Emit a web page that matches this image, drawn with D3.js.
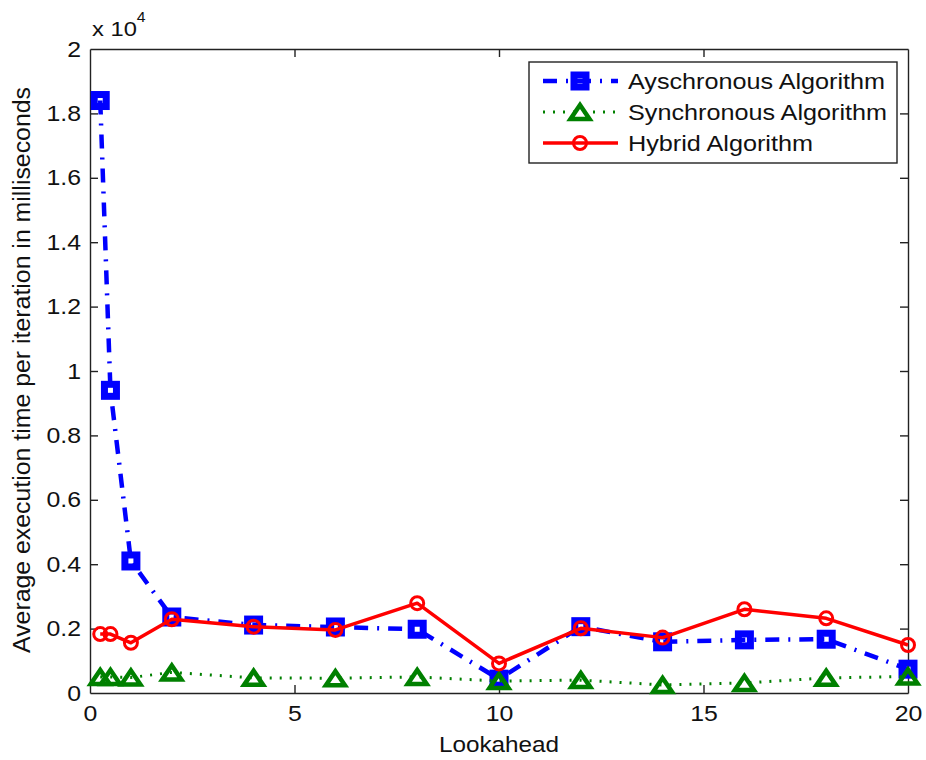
<!DOCTYPE html>
<html>
<head>
<meta charset="utf-8">
<script src="https://cdn.jsdelivr.net/npm/d3@7"></script>
<style>
  html, body { margin: 0; padding: 0; background: #fff; }
  svg { display: block; font-family: "Liberation Sans", Arial, Helvetica, sans-serif; }
</style>
</head>
<body>
<svg id="chart" width="926" height="760"></svg>
<script>
// Lookahead values (x) and average execution time per iteration (ms)
const lookahead = [0.25, 0.5, 1, 2, 4, 6, 8, 10, 12, 14, 16, 18, 20];
const asyncTimes  = [18400, 9400, 4100, 2360, 2110, 2050, 1980, 430, 2060, 1590, 1650, 1670, 740];
const syncTimes   = [500, 500, 480, 640, 470, 460, 500, 370, 400, 250, 310, 470, 510];
const hybridTimes = [1830, 1830, 1560, 2290, 2060, 1960, 2790, 920, 2010, 1720, 2600, 2320, 1490];

const seriesNames = ["Ayschronous Algorithm", "Synchronous Algorithm", "Hybrid Algorithm"];
const xTicks = [0, 5, 10, 15, 20];
const yTicks = [0, 2000, 4000, 6000, 8000, 10000, 12000, 14000, 16000, 18000, 20000];
const xLabel = "Lookahead";
const yLabel = "Average execution time per iteration in milliseconds";

const svg = d3.select("#chart");
const X0 = 90, X1 = 908, Y0 = 693, Y1 = 49;
const x = d3.scaleLinear().domain([0, 20]).range([X0, X1]);
const y = d3.scaleLinear().domain([0, 20000]).range([Y0, Y1]);

const SX = 1.13; // horizontal glyph stretch of the figure text
function stretch(sel, k) {
  sel.each(function () {
    const t = d3.select(this);
    const ax = +t.attr("x") || 0, ay = +t.attr("y") || 0;
    t.attr("transform", `translate(${ax},${ay}) scale(${k},1) translate(${-ax},${-ay})`);
  });
}

const fmtY = v => String(+(v / 10000).toFixed(1));

// Axes box with inward ticks on all four sides
const axisG = svg.append("g").attr("class", "axes");
const tickLen = 8;
const axBottom = axisG.append("g").attr("transform", `translate(0,${Y0})`)
  .call(d3.axisBottom(x).tickValues(xTicks).tickSizeInner(-tickLen).tickSizeOuter(0).tickPadding(12));
const axTop = axisG.append("g").attr("transform", `translate(0,${Y1})`)
  .call(d3.axisTop(x).tickValues(xTicks).tickSizeInner(-tickLen).tickSizeOuter(0).tickFormat(""));
const axLeft = axisG.append("g").attr("transform", `translate(${X0},0)`)
  .call(d3.axisLeft(y).tickValues(yTicks).tickSizeInner(-tickLen).tickSizeOuter(0).tickPadding(9).tickFormat(fmtY));
const axRight = axisG.append("g").attr("transform", `translate(${X1},0)`)
  .call(d3.axisRight(y).tickValues(yTicks).tickSizeInner(-tickLen).tickSizeOuter(0).tickFormat(""));

[axBottom, axTop, axLeft, axRight].forEach(g => {
  g.select(".domain").attr("stroke", "#222").attr("stroke-width", 1.4);
  g.selectAll(".tick line").attr("stroke", "#222").attr("stroke-width", 1.4);
  g.selectAll(".tick text").attr("fill", "#111").attr("font-size", 22)
    .attr("font-family", "'Liberation Sans', Arial, sans-serif");
});
// keep the edge ticks from doubling over the box corners
axBottom.selectAll(".tick").filter(d => d === 0 || d === 20).select("line").attr("opacity", 0);
axTop.selectAll(".tick").filter(d => d === 0 || d === 20).select("line").attr("opacity", 0);
axLeft.selectAll(".tick").filter(d => d === 0 || d === 20000).select("line").attr("opacity", 0);
axRight.selectAll(".tick").filter(d => d === 0 || d === 20000).select("line").attr("opacity", 0);
stretch(axBottom.selectAll(".tick text"), SX);
stretch(axLeft.selectAll(".tick text"), SX);

// Exponent note above the y axis
const expo = svg.append("text").attr("x", 92).attr("y", 36)
  .attr("font-size", 21).attr("fill", "#111");
expo.append("tspan").text("x 10");
expo.append("tspan").attr("dy", -14).attr("font-size", 14).text("4");
stretch(expo, SX);

// Axis titles
const xl = svg.append("text").attr("x", (X0 + X1) / 2).attr("y", 752)
  .attr("text-anchor", "middle").attr("font-size", 21.5).attr("fill", "#111").text(xLabel);
stretch(xl, SX);
svg.append("text")
  .attr("transform", `translate(30,${(87 + 653) / 2}) rotate(-90)`)
  .attr("text-anchor", "middle").attr("font-size", 23).attr("fill", "#111")
  .attr("textLength", 566).attr("lengthAdjust", "spacingAndGlyphs")
  .text(yLabel);

// Series definitions
const series = [
  { name: seriesNames[0], values: asyncTimes,  color: "#0000ff", width: 4.5, dash: "14,9,2,9", marker: "square" },
  { name: seriesNames[1], values: syncTimes,   color: "#008000", width: 3,   dash: "2,8",      marker: "triangle" },
  { name: seriesNames[2], values: hybridTimes, color: "#ff0000", width: 3.5, dash: null,       marker: "circle" }
];

function drawMarker(g, kind, color) {
  if (kind === "square") {
    g.append("rect").attr("x", -6).attr("y", -6).attr("width", 12).attr("height", 12)
      .attr("fill", "none").attr("stroke", color).attr("stroke-width", 7);
  } else if (kind === "triangle") {
    g.append("path").attr("d", "M0,-7L9.5,7L-9.5,7Z")
      .attr("fill", "none").attr("stroke", color).attr("stroke-width", 4.5)
      .attr("stroke-linejoin", "miter");
  } else {
    g.append("circle").attr("r", 6.5)
      .attr("fill", "none").attr("stroke", color).attr("stroke-width", 3);
  }
}

const line = d3.line().x(d => x(d[0])).y(d => y(d[1]));
const plot = svg.append("g").attr("class", "plot");
series.forEach(s => {
  const pts = lookahead.map((lx, i) => [lx, s.values[i]]);
  plot.append("path").datum(pts).attr("d", line)
    .attr("fill", "none").attr("stroke", s.color).attr("stroke-width", s.width)
    .attr("stroke-dasharray", s.dash).attr("stroke-linejoin", "round");
  pts.forEach(p => {
    const g = plot.append("g").attr("transform", `translate(${x(p[0])},${y(p[1])})`);
    drawMarker(g, s.marker, s.color);
  });
});

// Legend
const lg = svg.append("g").attr("class", "legend");
lg.append("rect").attr("x", 529).attr("y", 62).attr("width", 368).attr("height", 101)
  .attr("fill", "#fff").attr("stroke", "#222").attr("stroke-width", 1.4);
const legendLens = [257, 259, 185];
series.forEach((s, i) => {
  const cy = 81 + i * 31;
  lg.append("line").attr("x1", 543).attr("x2", 618).attr("y1", cy).attr("y2", cy)
    .attr("stroke", s.color).attr("stroke-width", s.width).attr("stroke-dasharray", s.dash);
  const m = lg.append("g").attr("transform", `translate(580,${cy})`);
  drawMarker(m, s.marker, s.color);
  lg.append("text").attr("x", 628).attr("y", cy + 8).attr("font-size", 22).attr("fill", "#111")
    .attr("textLength", legendLens[i]).attr("lengthAdjust", "spacingAndGlyphs").text(s.name);
});
</script>
</body>
</html>
